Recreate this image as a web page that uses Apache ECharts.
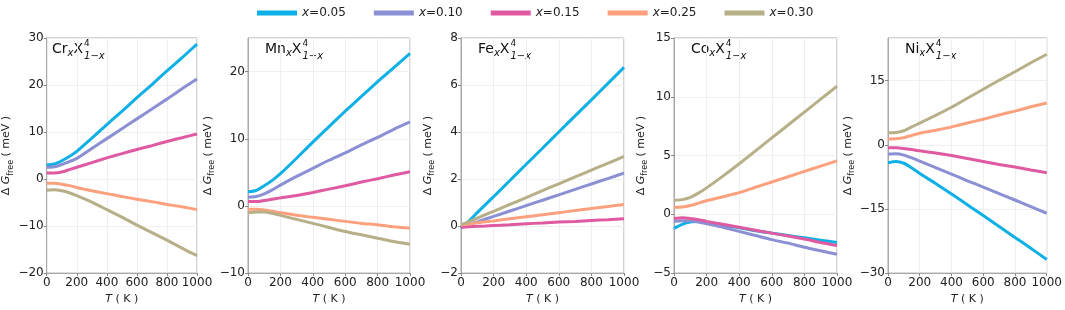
<!DOCTYPE html>
<html>
<head>
<meta charset="utf-8">
<script src="https://cdn.jsdelivr.net/npm/echarts@6/dist/echarts.min.js"></script>
<style>
html,body{margin:0;padding:0;background:#fff;}
#c{width:1065px;height:310px;}
</style>
</head>
<body>
<div id="c"></div>
<script>
// ---------- data ----------
const T = [0, 50, 100, 150, 200, 300, 400, 500, 600, 700, 800, 900, 1000];
const seriesNames = ['x=0.05', 'x=0.10', 'x=0.15', 'x=0.25', 'x=0.30'];
const elements = ['Cr', 'Mn', 'Fe', 'Co', 'Ni'];

// Cr
const cr005 = [3.0, 3.2, 3.9, 4.8, 5.9, 8.7, 11.6, 14.4, 17.3, 20.1, 23.0, 25.8, 28.7];
const cr010 = [2.5, 2.6, 3.1, 3.7, 4.4, 6.5, 8.6, 10.7, 12.8, 14.9, 17.0, 19.2, 21.3];
const cr015 = [1.3, 1.3, 1.5, 2.0, 2.5, 3.5, 4.5, 5.4, 6.3, 7.1, 8.0, 8.8, 9.6];
const cr025 = [-0.9, -0.9, -1.1, -1.4, -1.8, -2.5, -3.1, -3.7, -4.3, -4.8, -5.4, -5.9, -6.5];
const cr030 = [-2.4, -2.3, -2.5, -2.9, -3.5, -4.9, -6.5, -8.1, -9.8, -11.4, -13.0, -14.7, -16.3];
// Mn
const mn005 = [2.1, 2.3, 3.0, 3.8, 4.8, 7.1, 9.5, 11.8, 14.1, 16.3, 18.5, 20.6, 22.7];
const mn010 = [1.3, 1.4, 1.8, 2.4, 3.1, 4.4, 5.6, 6.8, 7.9, 9.1, 10.2, 11.4, 12.5];
const mn015 = [0.65, 0.65, 0.8, 1.0, 1.2, 1.55, 2.0, 2.5, 3.0, 3.55, 4.05, 4.6, 5.1];
const mn025 = [-0.5, -0.5, -0.6, -0.8, -1.0, -1.4, -1.7, -2.0, -2.3, -2.6, -2.8, -3.1, -3.3];
const mn030 = [-1.0, -0.9, -0.9, -1.1, -1.4, -2.0, -2.6, -3.2, -3.8, -4.3, -4.8, -5.3, -5.7];
// Fe
const fe005 = [-0.1, 0.22, 0.57, 0.91, 1.25, 1.94, 2.63, 3.31, 4.0, 4.69, 5.37, 6.06, 6.75];
const fe010 = [-0.05, 0.07, 0.18, 0.3, 0.41, 0.64, 0.87, 1.1, 1.33, 1.56, 1.79, 2.02, 2.25];
const fe015 = [-0.05, -0.03, -0.01, 0.0, 0.02, 0.06, 0.1, 0.13, 0.17, 0.2, 0.24, 0.27, 0.31];
const fe025 = [0.05, 0.09, 0.14, 0.18, 0.22, 0.31, 0.4, 0.48, 0.57, 0.66, 0.75, 0.83, 0.92];
const fe030 = [0.05, 0.19, 0.34, 0.49, 0.63, 0.92, 1.21, 1.51, 1.8, 2.09, 2.38, 2.67, 2.96];
// Co
const co005 = [-1.2, -0.85, -0.65, -0.62, -0.7, -0.9, -1.15, -1.4, -1.6, -1.8, -2.0, -2.2, -2.4];
const co010 = [-0.6, -0.55, -0.55, -0.65, -0.8, -1.1, -1.45, -1.8, -2.15, -2.45, -2.8, -3.1, -3.4];
const co015 = [-0.35, -0.3, -0.35, -0.45, -0.6, -0.85, -1.1, -1.35, -1.6, -1.85, -2.1, -2.4, -2.65];
const co025 = [0.6, 0.62, 0.75, 0.95, 1.15, 1.5, 1.85, 2.3, 2.75, 3.2, 3.65, 4.1, 4.55];
const co030 = [1.2, 1.25, 1.45, 1.8, 2.25, 3.25, 4.3, 5.4, 6.5, 7.6, 8.7, 9.8, 10.9];
// Ni
const ni005 = [-4.2, -3.9, -4.3, -5.4, -6.7, -9.05, -11.5, -14.0, -16.55, -19.1, -21.65, -24.2, -26.8];
const ni010 = [-2.2, -2.1, -2.4, -3.05, -3.8, -5.3, -6.85, -8.4, -9.9, -11.4, -12.9, -14.45, -16.0];
const ni015 = [-0.7, -0.7, -0.85, -1.1, -1.4, -1.9, -2.5, -3.2, -3.9, -4.6, -5.2, -5.9, -6.5];
const ni025 = [1.4, 1.45, 1.7, 2.2, 2.7, 3.4, 4.2, 5.1, 6.0, 7.0, 7.9, 8.9, 9.8];
const ni030 = [2.85, 2.9, 3.3, 4.2, 5.1, 6.9, 8.8, 10.9, 13.0, 15.1, 17.1, 19.2, 21.2];

const yMins = [-20, -10, -2, -5, -30];
const yMaxs = [30, 25, 8, 15, 25];
const yIntervals = [10, 10, 2, 5, 15];

// ---------- chart ----------
const panelData = [
  [cr005, cr010, cr015, cr025, cr030],
  [mn005, mn010, mn015, mn025, mn030],
  [fe005, fe010, fe015, fe025, fe030],
  [co005, co010, co015, co025, co030],
  [ni005, ni010, ni015, ni025, ni030]
];
const colors = ['#0fb0e6', '#8b8fd4', '#df5aa1', '#fca07e', '#b7af88'];
const FONT = 'DejaVu Sans';
const lefts = [35, 248, 461, 674, 888];
const widths = [162, 162, 163, 163, 163];
const nameGaps = [27, 27, 20, 20, 27];
const TOP = 38, H = 245;

function fmt(v) { return String(v).replace('-', '\u2212'); }

const grids = [], xAxes = [], yAxes = [], series = [], graphics = [];
const measure = document.createElement('canvas').getContext('2d');
function tw(text, font) { measure.font = font; return measure.measureText(text).width; }

for (let i = 0; i < 5; i++) {
  grids.push({left: lefts[i], top: TOP, width: widths[i], height: H, show: true,
    borderColor: '#a8a8a8', borderWidth: 1, backgroundColor: 'transparent'});
  xAxes.push({
    type: 'value', gridIndex: i, min: 0, max: 1000, interval: 200,
    axisLine: {show: true, onZero: false, lineStyle: {color: '#a8a8a8'}},
    axisTick: {show: true, length: 3, lineStyle: {color: '#888'}},
    axisLabel: {fontSize: 12, color: '#222', margin: 4, fontFamily: FONT, formatter: fmt},
    splitLine: {show: true, lineStyle: {color: '#efefef', width: 1}},
    name: '{i|T} ( K )', nameLocation: 'middle', nameGap: 17,
    nameTextStyle: {fontSize: 11, color: '#222', fontFamily: FONT,
      rich: {i: {fontStyle: 'italic', fontSize: 11, fontFamily: FONT, color: '#222'}}}
  });
  yAxes.push({
    type: 'value', gridIndex: i, min: yMins[i], max: yMaxs[i], interval: yIntervals[i],
    axisLine: {show: true, onZero: false, lineStyle: {color: '#a8a8a8'}},
    axisTick: {show: true, length: 3, lineStyle: {color: '#888'}},
    axisLabel: {fontSize: 12, color: '#222', margin: 3, fontFamily: FONT, formatter: fmt, showMaxLabel: yMaxs[i] % yIntervals[i] === 0},
    splitLine: {show: true, lineStyle: {color: '#efefef', width: 1}},
    name: '{d|\u0394 }{g|G}{f|free}{d| ( meV )}', nameLocation: 'middle', nameGap: nameGaps[i], nameRotate: 90,
    nameTextStyle: {fontSize: 11, color: '#222', fontFamily: FONT,
      rich: {
        d: {fontSize: 11, fontFamily: FONT, color: '#222', lineHeight: 16},
        g: {fontSize: 11, fontStyle: 'italic', fontFamily: FONT, color: '#222', lineHeight: 16},
        f: {fontSize: 8, fontFamily: FONT, color: '#222', lineHeight: 16, verticalAlign: 'bottom'}
      }}
  });
  for (let j = 0; j < 5; j++) {
    series.push({
      type: 'line', name: seriesNames[j], xAxisIndex: i, yAxisIndex: i,
      data: T.map((t, k) => [t, panelData[i][j][k]]),
      showSymbol: false, smooth: 0.2, animation: false,
      lineStyle: {width: 3, color: colors[j]}, itemStyle: {color: colors[j]}
    });
  }
  // panel label
  const tl = lefts[i] + 17;
  const wMain = tw(elements[i], '14px ' + FONT) + tw('x', 'italic 10px ' + FONT) + tw('X', '14px ' + FONT);
  graphics.push({type: 'text', left: tl, top: 42,
    style: {text: '{m|' + elements[i] + '}{s|x}{m|X}', fill: '#111', font: '14px ' + FONT,
      rich: {m: {fontSize: 14, fontFamily: FONT, fill: '#111', lineHeight: 18},
             s: {fontSize: 10, fontStyle: 'italic', fontFamily: FONT, fill: '#111', lineHeight: 18, verticalAlign: 'bottom'}}}});
  graphics.push({type: 'text', left: tl + wMain + 1, top: 39,
    style: {text: '4', fill: '#111', font: '9px ' + FONT}});
  graphics.push({type: 'text', left: tl + wMain + 1, top: 51,
    style: {text: '1\u2212x', fill: '#111', font: 'italic 10px ' + FONT}});
}

const chart = echarts.init(document.getElementById('c'), null, {renderer: 'canvas'});
chart.setOption({
  animation: false,
  backgroundColor: '#fff',
  color: colors,
  legend: {
    data: seriesNames, left: 252, top: 2, itemWidth: 40, itemHeight: 5, itemGap: 28, icon: 'rect',
    formatter: n => '{i|x}' + n.slice(1),
    textStyle: {fontSize: 12, color: '#222', fontFamily: FONT,
      rich: {i: {fontStyle: 'italic', fontSize: 12, fontFamily: FONT, color: '#222'}}}
  },
  grid: grids, xAxis: xAxes, yAxis: yAxes, series: series, graphic: graphics
});
</script>
</body>
</html>
